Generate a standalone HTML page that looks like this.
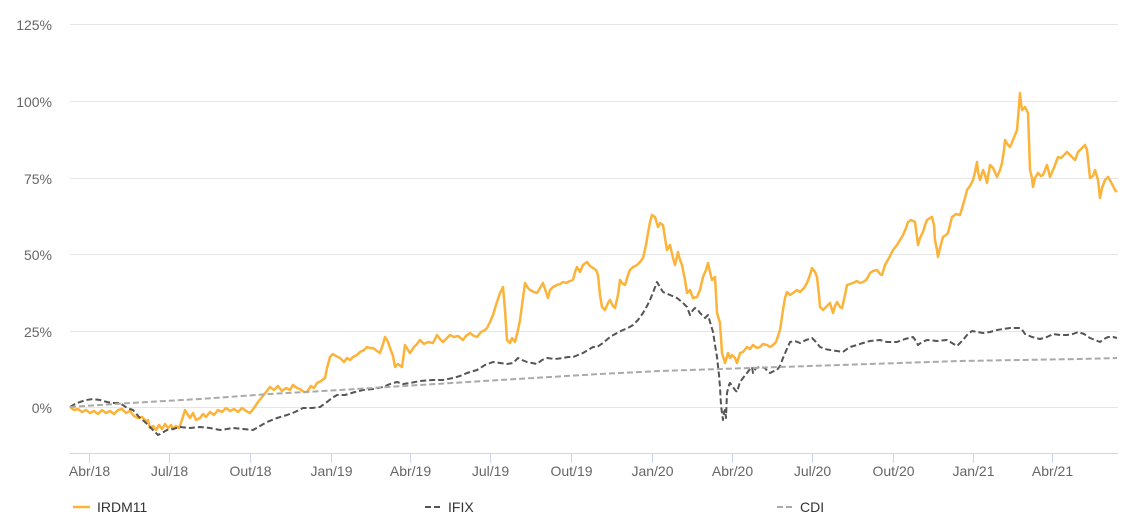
<!DOCTYPE html>
<html>
<head>
<meta charset="utf-8">
<style>
html,body{margin:0;padding:0;background:#fff;}
body{width:1132px;height:522px;overflow:hidden;}
svg{display:block;font-family:"Liberation Sans",Arial,sans-serif;}
</style>
</head>
<body>
<svg width="1132" height="522" viewBox="0 0 1132 522" xmlns="http://www.w3.org/2000/svg">
<rect width="1132" height="522" fill="#fff"/>
<!-- grid -->
<g stroke="#e6e6e6" stroke-width="1">
<line x1="70" y1="24.5" x2="1118" y2="24.5"/>
<line x1="70" y1="101.5" x2="1118" y2="101.5"/>
<line x1="70" y1="178.5" x2="1118" y2="178.5"/>
<line x1="70" y1="254.5" x2="1118" y2="254.5"/>
<line x1="70" y1="331.5" x2="1118" y2="331.5"/>
<line x1="70" y1="407.5" x2="1118" y2="407.5"/>
</g>
<!-- y labels -->
<g fill="#666" font-size="14" text-anchor="end">
<text x="52" y="30">125%</text>
<text x="52" y="107">100%</text>
<text x="52" y="184">75%</text>
<text x="52" y="260">50%</text>
<text x="52" y="337">25%</text>
<text x="52" y="413">0%</text>
</g>
<!-- x axis -->
<line x1="70" y1="453.5" x2="1118" y2="453.5" stroke="#ccd6eb" stroke-width="1"/>
<g stroke="#ccd6eb" stroke-width="1">
<line x1="89.5" y1="453" x2="89.5" y2="463"/>
<line x1="169.5" y1="453" x2="169.5" y2="463"/>
<line x1="250.5" y1="453" x2="250.5" y2="463"/>
<line x1="331.5" y1="453" x2="331.5" y2="463"/>
<line x1="410.5" y1="453" x2="410.5" y2="463"/>
<line x1="490.5" y1="453" x2="490.5" y2="463"/>
<line x1="571.5" y1="453" x2="571.5" y2="463"/>
<line x1="652.5" y1="453" x2="652.5" y2="463"/>
<line x1="732.5" y1="453" x2="732.5" y2="463"/>
<line x1="812.5" y1="453" x2="812.5" y2="463"/>
<line x1="893.5" y1="453" x2="893.5" y2="463"/>
<line x1="973.5" y1="453" x2="973.5" y2="463"/>
<line x1="1052.5" y1="453" x2="1052.5" y2="463"/>
</g>
<g fill="#666" font-size="14" text-anchor="middle">
<text x="89.5" y="476">Abr/18</text>
<text x="169.5" y="476">Jul/18</text>
<text x="250.5" y="476">Out/18</text>
<text x="331.5" y="476">Jan/19</text>
<text x="410.5" y="476">Abr/19</text>
<text x="490.5" y="476">Jul/19</text>
<text x="571.5" y="476">Out/19</text>
<text x="652.5" y="476">Jan/20</text>
<text x="732.5" y="476">Abr/20</text>
<text x="812.5" y="476">Jul/20</text>
<text x="893.5" y="476">Out/20</text>
<text x="973.5" y="476">Jan/21</text>
<text x="1052.5" y="476">Abr/21</text>
</g>
<!-- IRDM11 -->
<polyline fill="none" stroke="#fbb339" stroke-width="2.5" stroke-linejoin="round" points="70,407 74,410 78,409 82,412 86,410 90,413 94,411 98,414 102,410 106,413 110,411 114,414 118,410 122,409 126,413 130,411 134,416 138,418 142,417 146,421 148,420 150,428 153,426 156,430 159,425 162,429 165,424 168,428 171,425 173,429 176,426 179,428 182,420 185,410 188,415 190,418 193,413 196,420 200,418 203,414 206,417 210,412 214,415 218,410 222,412 226,408 230,411 234,409 238,412 242,408 246,411 250,413 254,408 258,402 262,397 266,392 270,387 274,390 278,386 282,391 286,388 290,390 293,385 297,388 300,389 304,392 307,392 311,386 314,388 317,383 321,381 325,378 327,368 330,357 333,354 336,356 340,358 344,362 347,358 350,360 353,357 357,355 360,352 364,350 367,347 370,348 373,348 377,351 380,353 383,344 385,337 388,342 390,348 393,356 395,367 398,364 402,367 405,345 408,350 410,353 414,347 417,344 420,340 424,344 428,342 433,343 437,335 440,339 443,342 447,338 450,335 454,337 458,336 463,340 466,336 470,333 474,336 477,337 481,332 485,330 487,328 490,322 493,315 496,305 500,293 503,287 505,310 507,340 510,343 512,338 515,342 518,330 520,320 523,298 525,283 528,288 530,290 534,292 537,293 540,288 543,283 546,292 548,298 550,290 553,287 557,285 560,284 563,282 566,283 570,281 573,280 575,272 577,267 580,272 583,265 587,262 590,266 593,268 596,270 598,275 600,295 602,307 605,310 608,303 610,300 613,306 615,308 618,295 620,280 623,284 625,285 628,275 630,270 633,267 637,265 640,262 643,258 646,245 648,233 650,222 652,215 655,217 658,227 660,223 663,225 665,238 667,250 670,245 673,258 675,265 678,252 680,260 682,265 685,280 687,293 690,290 693,298 697,297 700,290 703,277 706,270 708,263 710,272 712,280 715,277 717,313 720,323 722,353 725,363 728,353 730,358 732,355 735,358 737,363 740,353 743,352 747,347 750,349 753,345 757,348 760,347 763,344 767,345 770,347 773,345 776,342 780,330 783,310 785,298 787,292 790,295 793,293 797,290 800,292 804,288 807,283 810,275 812,268 815,272 817,277 819,295 820,307 823,310 825,308 828,305 830,303 833,313 835,306 837,302 840,307 842,308 845,295 847,285 850,284 853,283 857,281 860,283 863,282 866,280 868,277 870,273 873,271 877,270 880,274 882,275 885,265 889,258 893,250 897,245 900,240 903,235 906,228 908,222 911,220 915,222 918,245 920,238 923,232 925,225 927,220 930,218 932,217 934,225 935,240 937,250 938,257 940,248 943,237 946,235 948,233 950,225 952,217 956,214 960,215 963,205 965,198 967,190 970,186 973,180 975,172 977,162 978,172 980,180 983,170 985,175 987,183 990,165 993,168 997,177 1000,170 1002,163 1004,150 1005,140 1008,145 1010,147 1013,140 1017,130 1018,118 1020,93 1021,103 1022,110 1025,107 1028,113 1029,140 1030,170 1032,178 1033,187 1035,178 1038,173 1041,176 1043,175 1045,170 1047,165 1050,177 1053,170 1055,165 1058,157 1061,158 1064,155 1067,152 1070,155 1073,158 1075,160 1078,152 1081,149 1085,145 1087,150 1090,178 1093,176 1095,170 1098,180 1100,198 1102,188 1105,180 1108,177 1111,182 1113,186 1115,190 1117,192"/>
<!-- IFIX -->
<polyline fill="none" stroke="#555" stroke-width="2" stroke-dasharray="6,3" stroke-linejoin="round" points="70,407 75,404 80,402 86,400 93,399 100,400 107,402 113,403 120,403 127,408 133,410 140,418 145,422 150,427 155,432 158,435 162,433 167,430 173,429 180,427 190,428 200,427 210,428 220,430 227,429 233,428 243,429 253,430 260,426 267,422 277,418 287,415 295,412 303,408 312,408 320,407 327,402 332,398 337,395 345,395 355,392 363,390 373,389 383,387 390,384 397,382 403,384 410,383 420,381 433,380 443,380 453,378 460,376 467,373 477,370 485,365 493,362 500,363 507,364 513,363 518,358 522,360 527,362 532,363 537,364 542,360 547,358 555,359 563,358 568,357 573,357 578,355 583,353 588,350 593,347 597,347 603,343 610,337 617,333 623,330 628,328 633,325 638,320 643,313 647,306 650,300 654,290 657,282 660,287 663,292 670,295 677,298 682,302 687,307 690,315 693,310 695,308 698,310 700,313 703,316 705,318 708,315 710,322 713,332 715,345 717,357 719,375 720,387 721,405 722,413 723,420 724,412 725,410 726,418 727,393 729,385 730,383 733,387 735,390 737,392 740,382 743,378 747,373 750,369 752,367 753,373 756,368 760,367 765,368 768,372 770,373 774,371 777,370 780,366 783,358 786,351 790,342 795,341 800,343 806,340 812,338 816,342 820,347 825,349 830,350 837,351 843,352 847,349 850,347 857,345 863,343 870,341 880,340 887,342 897,342 905,339 913,337 916,341 918,345 922,342 927,340 937,341 947,340 952,343 957,346 960,343 963,340 967,335 972,331 978,332 983,333 990,332 997,330 1003,329 1010,328 1015,328 1020,328 1023,331 1025,334 1032,337 1040,339 1047,337 1053,334 1060,335 1067,335 1073,334 1078,332 1084,334 1090,338 1095,340 1100,342 1104,339 1108,337 1113,337 1117,338"/>
<!-- CDI -->
<polyline fill="none" stroke="#aaa" stroke-width="2" stroke-dasharray="6,3" points="70,407 130,403 200,399 270,394 340,390 420,385 500,380 600,374 660,371 720,369 780,367 840,365 900,363 960,361 1020,360 1080,359 1117,358"/>
<!-- legend -->
<line x1="73" y1="507" x2="90" y2="507" stroke="#fbb339" stroke-width="2.5"/>
<text x="97" y="512" font-size="14" fill="#333">IRDM11</text>
<line x1="425" y1="507" x2="441" y2="507" stroke="#555" stroke-width="2" stroke-dasharray="6,3"/>
<text x="448" y="512" font-size="14" fill="#333">IFIX</text>
<line x1="777" y1="507" x2="793" y2="507" stroke="#aaa" stroke-width="2" stroke-dasharray="6,3"/>
<text x="800" y="512" font-size="14" fill="#333">CDI</text>
</svg>
</body>
</html>
